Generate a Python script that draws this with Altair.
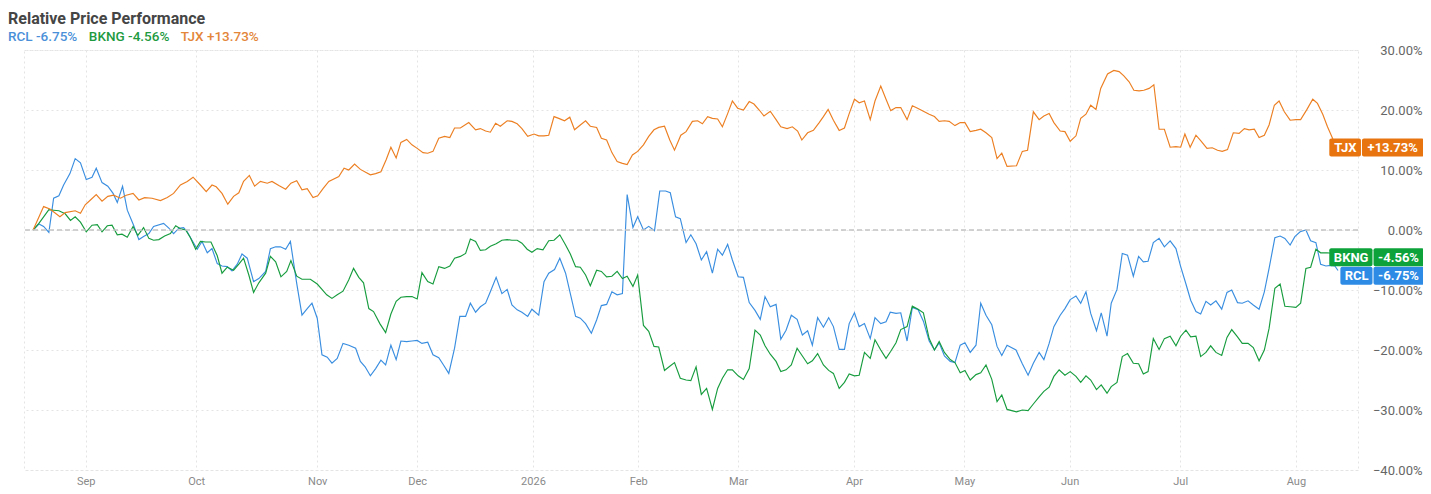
import altair as alt
import pandas as pd

# ---------------- data ----------------
SYMBOLS = ["RCL", "BKNG", "TJX"]
LAST_PCT = [-6.75, -4.56, 13.73]
LINE_COLORS = ["#3a8ee0", "#179c3e", "#ec7f22"]
BOX_COLORS = ["#2d8ae5", "#0ea23b", "#e8740f"]
LEGEND_COLORS = ["#4a90d9", "#1e9a3f", "#e3863a"]

# x axis: trading-day index of the first session of each month
MONTH_DAYS = [10, 31, 54, 73, 95, 115, 134, 156, 177, 197, 218, 240]
MONTH_LABELS = ["Sep", "Oct", "Nov", "Dec", "2026", "Feb", "Mar", "Apr", "May", "Jun", "Jul", "Aug"]
Y_TICKS = [-40, -30, -20, -10, 0, 10, 20, 30]

# [trading-day index, % change]
rcl = [
    [0, 0.0], [1.1, 1.0], [2.0, 0.6], [3.0, -0.4], [3.9, 5.3], [4.9, 5.7], [5.8, 7.5], [7.0, 9.4],
    [8.0, 11.9], [9.0, 11.2], [10.1, 8.4], [11.2, 8.8], [12.0, 10.3], [13.1, 7.9], [14.2, 7.3],
    [15.2, 6.1], [16.0, 4.6], [17.0, 7.3], [17.9, 3.3], [19.1, 0.8], [20.1, -1.6], [21.0, -1.1],
    [22.0, -0.6], [22.9, 0.6], [24.8, 1.1], [25.8, 0.3], [26.7, -0.6], [27.7, 0.3], [28.6, 0.4],
    [29.3, -0.3], [30.2, -1.7], [31.2, -3.2], [32.1, -1.9], [33.1, -3.8], [34.0, -3.1], [35.0, -5.6],
    [35.9, -6.0], [36.9, -6.1], [37.8, -6.8], [38.8, -5.7], [39.7, -4.0], [40.7, -4.7], [41.9, -8.6],
    [42.9, -8.1], [44.2, -6.9], [45.1, -3.1], [46.1, -2.8], [47.0, -2.8], [48.0, -3.2], [48.9, -1.9],
    [50.1, -8.9], [51.1, -14.2], [52.1, -13.1], [53.0, -12.2], [54.0, -14.7], [54.9, -20.8],
    [55.9, -21.2], [56.8, -22.2], [57.8, -21.4], [58.9, -18.9], [60.0, -19.2], [61.3, -19.7],
    [62.2, -21.9], [63.1, -22.8], [64.1, -24.3], [65.1, -23.1], [66.1, -21.7], [67.0, -22.5],
    [68.0, -19.2], [69.0, -21.6], [69.9, -18.5], [71.0, -18.6], [72.0, -18.5], [73.0, -18.4],
    [73.9, -18.9], [75.0, -18.7], [76.0, -20.8], [77.1, -21.3], [78.0, -22.5], [79.0, -23.9],
    [80.1, -19.7], [81.1, -14.4], [82.2, -14.4], [83.1, -12.2], [84.1, -13.7], [85.0, -12.8],
    [86.0, -12.2], [86.9, -10.3], [88.0, -7.9], [89.1, -10.6], [90.1, -9.9], [91.0, -12.5],
    [92.0, -13.3], [92.9, -13.7], [94.0, -14.4], [94.8, -13.2], [96.1, -14.2], [97.1, -8.6],
    [98.0, -7.2], [99.1, -6.6], [100.1, -4.7], [101.2, -7.2], [102.1, -10.6], [103.1, -14.4],
    [104.0, -14.7], [105.0, -15.6], [106.1, -17.2], [107.1, -15.0], [108.0, -12.6], [109.0, -12.4],
    [110.0, -10.3], [111.0, -10.8], [112.0, -10.6], [112.9, 5.9], [114.0, 0.4], [114.9, 2.2],
    [116.0, 0.0], [117.0, 0.6], [118.1, -0.1], [119.1, 6.5], [120.2, 6.5], [121.1, 6.2],
    [122.1, 2.2], [123.0, 1.9], [124.1, -2.1], [125.0, -0.8], [126.0, -2.3], [127.0, -5.0],
    [128.0, -3.6], [129.1, -7.2], [130.1, -3.2], [131.0, -4.2], [132.0, -2.4], [132.9, -5.0],
    [134.0, -7.8], [135.0, -7.9], [136.1, -12.1], [137.2, -13.4], [138.2, -14.9], [139.1, -11.1],
    [140.1, -12.8], [141.2, -12.4], [142.1, -18.2], [143.1, -16.7], [144.1, -14.2], [145.2, -14.9],
    [146.2, -17.5], [147.2, -16.8], [148.1, -19.2], [149.1, -14.6], [150.2, -16.2], [151.2, -14.6],
    [152.1, -16.1], [153.2, -19.9], [154.2, -19.9], [155.1, -15.6], [156.1, -13.8], [157.0, -16.1],
    [158.0, -15.6], [159.1, -18.1], [160.0, -14.6], [161.1, -15.6], [162.1, -15.3], [162.9, -13.7],
    [164.0, -13.9], [164.9, -13.8], [166.1, -18.5], [167.1, -12.9], [168.2, -13.3], [169.2, -15.2],
    [170.3, -18.5], [171.3, -20.0], [172.2, -18.8], [173.2, -21.0], [174.3, -21.9], [175.2, -22.1],
    [176.2, -19.2], [177.1, -18.8], [178.1, -20.4], [179.2, -19.2], [180.1, -12.2], [181.1, -14.2],
    [182.2, -15.8], [183.2, -19.4], [184.1, -20.9], [185.1, -19.2], [186.8, -20.0], [188.0, -22.3],
    [189.1, -24.2], [190.1, -22.2], [191.2, -20.4], [192.1, -21.6], [193.1, -18.9], [194.0, -16.1],
    [195.2, -14.2], [196.1, -13.1], [197.1, -11.6], [198.2, -11.0], [199.1, -12.2], [200.1, -10.3],
    [201.0, -13.9], [202.1, -16.8], [203.0, -13.8], [204.1, -17.7], [204.9, -12.2], [206.0, -9.9],
    [207.0, -3.9], [208.0, -4.2], [209.1, -7.7], [210.1, -4.4], [211.0, -5.3], [211.9, -5.2],
    [212.9, -2.1], [214.0, -1.4], [215.0, -2.8], [216.1, -1.8], [217.2, -3.1], [218.1, -6.1],
    [219.1, -9.0], [220.0, -11.7], [221.0, -13.6], [221.9, -14.0], [222.9, -11.9], [223.8, -12.5],
    [224.8, -11.8], [225.9, -13.2], [226.9, -10.4], [227.8, -10.0], [228.9, -12.1], [229.8, -12.2],
    [230.9, -11.8], [231.9, -12.5], [233.0, -13.2], [234.0, -10.3], [234.9, -6.4], [236.0, -1.3],
    [237.0, -1.0], [237.9, -1.4], [238.9, -2.5], [239.8, -1.1], [240.8, -0.3], [241.9, 0.0],
    [242.8, -1.8], [243.8, -2.1], [244.7, -5.7], [245.7, -6.0], [246.6, -5.9], [247.4, -6.0],
    [248, -6.75],
]

bkng = [
    [0, 0.0], [1.1, 1.1], [2.0, 2.2], [3.0, 3.4], [3.9, 3.3], [4.9, 3.2], [6.1, 2.7], [7.1, 1.6],
    [8.0, 2.2], [9.0, 1.3], [10.1, -0.3], [11.2, 0.8], [12.2, 0.9], [13.1, -0.3], [14.1, 0.7],
    [15.0, 0.8], [16.0, -0.8], [16.9, -0.7], [17.9, -1.2], [19.0, 0.6], [19.9, -0.9], [21.0, 0.4],
    [22.0, -1.4], [22.9, -1.7], [23.9, -1.6], [25.0, -1.0], [26.1, -0.6], [27.1, 0.7], [28.0, 0.2],
    [29.0, 0.0], [29.9, -1.3], [30.9, -3.2], [31.8, -1.9], [32.8, -2.0], [33.8, -2.0], [35.0, -4.3],
    [35.9, -7.2], [36.9, -6.2], [38.1, -6.7], [39.1, -5.7], [40.0, -4.7], [41.0, -7.5], [41.9, -10.4],
    [42.9, -8.8], [44.2, -7.2], [45.1, -4.4], [46.1, -5.3], [47.1, -7.8], [48.2, -6.9], [49.0, -5.1],
    [50.1, -7.7], [51.1, -8.2], [52.7, -8.2], [54.0, -9.0], [54.9, -9.9], [55.8, -10.8],
    [56.8, -11.4], [57.8, -10.8], [58.9, -10.2], [60.0, -8.3], [60.9, -6.4], [61.9, -7.9],
    [62.8, -8.8], [63.8, -13.1], [64.7, -13.6], [65.9, -15.6], [67.0, -17.1], [68.0, -14.0],
    [69.0, -11.9], [69.9, -11.2], [71.0, -11.1], [72.0, -11.1], [73.0, -11.5], [73.9, -7.1],
    [75.0, -8.6], [76.0, -9.0], [77.1, -6.1], [78.2, -6.4], [79.2, -6.0], [80.1, -4.7], [81.2, -4.4],
    [82.2, -3.9], [83.1, -1.5], [84.1, -1.9], [85.0, -3.4], [86.0, -3.3], [86.9, -2.7], [88.0, -2.3],
    [89.1, -1.7], [90.1, -1.6], [91.0, -1.7], [92.0, -1.7], [92.9, -2.2], [93.9, -3.2], [94.8, -3.7],
    [95.8, -3.1], [96.9, -3.3], [98.0, -1.8], [99.0, -1.7], [100.1, -0.8], [101.2, -2.5],
    [102.1, -4.0], [103.1, -6.1], [104.0, -6.2], [105.0, -7.5], [105.9, -9.3], [107.1, -6.7],
    [108.0, -6.9], [109.0, -7.8], [110.0, -7.7], [111.0, -6.9], [112.0, -8.1], [112.9, -7.7],
    [114.0, -9.4], [114.9, -7.5], [116.0, -15.9], [117.0, -16.9], [118.0, -19.4], [118.9, -19.5],
    [120.0, -23.4], [121.0, -22.7], [121.9, -22.1], [123.0, -24.7], [124.1, -25.0], [125.0, -25.1],
    [126.0, -22.8], [127.0, -27.4], [128.0, -26.4], [129.1, -29.9], [130.1, -26.4], [131.0, -24.7],
    [132.0, -23.3], [132.9, -23.3], [134.0, -24.3], [135.0, -24.9], [136.1, -23.1], [137.2, -16.7],
    [138.2, -17.5], [139.1, -19.3], [140.1, -20.7], [141.2, -21.9], [142.1, -23.6], [143.1, -23.3],
    [144.1, -22.5], [145.2, -19.7], [146.2, -21.0], [147.2, -22.3], [148.1, -21.8], [149.1, -20.6],
    [150.2, -22.5], [151.2, -23.4], [152.1, -23.9], [153.2, -26.4], [154.2, -25.4], [155.1, -24.0],
    [156.1, -24.3], [157.0, -24.2], [158.0, -20.4], [159.1, -21.4], [160.0, -18.3], [161.1, -20.0],
    [162.1, -21.4], [163.0, -20.2], [164.0, -18.8], [164.9, -16.6], [166.1, -16.1], [167.1, -12.7],
    [168.2, -13.2], [169.2, -13.8], [170.3, -18.1], [171.3, -20.0], [172.2, -18.6], [173.2, -20.4],
    [174.3, -21.6], [175.2, -22.1], [176.2, -23.8], [177.1, -23.4], [178.1, -25.0], [179.2, -24.1],
    [180.1, -23.8], [181.1, -22.5], [182.2, -24.9], [183.2, -28.6], [184.1, -27.5], [185.1, -29.9],
    [186.9, -30.3], [188.0, -30.0], [189.1, -30.1], [190.1, -29.0], [191.2, -27.8], [192.1, -26.9],
    [193.1, -26.2], [194.0, -24.4], [195.0, -23.3], [196.1, -24.2], [197.1, -23.6], [198.2, -24.4],
    [199.1, -25.4], [200.1, -24.3], [201.0, -25.0], [202.1, -26.6], [203.0, -25.8], [204.1, -27.2],
    [204.9, -26.1], [206.0, -25.4], [207.0, -21.1], [208.0, -20.6], [209.1, -22.2], [210.1, -22.3],
    [211.0, -24.0], [211.9, -23.6], [212.9, -18.1], [214.0, -19.9], [215.0, -18.1], [216.1, -17.7],
    [217.2, -19.3], [218.1, -17.7], [219.1, -16.7], [220.0, -17.8], [221.0, -17.7], [221.9, -21.1],
    [222.9, -20.4], [223.8, -19.3], [224.8, -20.4], [225.9, -20.9], [226.9, -17.9], [227.8, -16.6],
    [228.9, -17.8], [229.8, -18.9], [230.9, -18.9], [231.9, -19.6], [233.0, -21.8], [234.0, -20.0],
    [234.9, -16.4], [236.0, -9.7], [237.0, -9.0], [237.9, -12.7], [238.9, -12.8], [240.0, -12.9],
    [240.9, -12.2], [241.9, -6.4], [242.8, -6.2], [243.8, -3.2], [244.7, -3.8], [245.9, -3.8],
    [247.0, -3.9], [248, -4.56],
]

tjx = [
    [0, 0.0], [2.0, 3.9], [3.2, 3.5], [5.1, 2.2], [6.1, 2.9], [8.0, 3.2], [9.0, 2.8], [9.9, 4.2],
    [10.9, 5.0], [12.0, 5.9], [13.1, 4.8], [14.2, 5.6], [15.3, 5.8], [16.6, 5.3], [17.7, 5.8],
    [19.0, 6.1], [20.1, 5.0], [21.2, 5.4], [22.6, 5.3], [24.2, 4.9], [25.5, 5.4], [26.7, 6.1],
    [28.0, 7.5], [29.3, 8.1], [30.4, 8.8], [31.8, 7.5], [32.9, 6.4], [34.0, 7.5], [34.8, 7.2],
    [35.9, 6.1], [37.0, 4.3], [38.1, 5.6], [39.1, 6.2], [40.0, 8.1], [41.1, 9.1], [42.1, 7.3],
    [43.2, 8.1], [44.5, 7.8], [45.4, 8.1], [46.7, 7.4], [48.0, 6.8], [49.0, 7.8], [50.1, 8.2],
    [51.1, 6.7], [52.1, 6.9], [53.2, 5.4], [54.1, 5.7], [55.1, 6.9], [56.2, 8.1], [58.1, 8.9],
    [59.1, 10.3], [60.0, 10.0], [61.1, 11.0], [62.2, 10.1], [64.1, 9.2], [65.1, 9.4], [66.1, 9.7],
    [67.1, 11.7], [68.0, 13.8], [69.0, 12.0], [69.9, 14.6], [71.0, 15.1], [72.0, 14.2], [73.0, 13.6],
    [74.1, 12.9], [75.0, 12.8], [76.0, 13.1], [77.1, 15.3], [78.2, 15.6], [79.2, 15.4], [80.1, 17.0],
    [81.2, 17.0], [82.8, 17.9], [84.1, 16.7], [85.0, 16.9], [86.0, 16.5], [86.9, 16.3], [87.9, 17.8],
    [88.8, 17.3], [90.1, 18.2], [91.0, 18.1], [92.0, 17.7], [92.9, 16.9], [94.0, 15.6], [95.2, 16.0],
    [96.1, 15.7], [97.1, 15.7], [98.0, 15.8], [99.0, 18.9], [99.9, 18.6], [101.0, 18.2], [102.0, 18.8],
    [102.9, 16.7], [104.0, 17.5], [105.0, 18.2], [105.9, 17.3], [107.1, 17.1], [108.0, 15.3],
    [109.0, 15.0], [110.0, 12.9], [111.0, 11.4], [112.0, 11.1], [112.9, 10.9], [113.9, 12.5],
    [114.9, 13.1], [116.0, 14.2], [117.0, 15.6], [118.0, 16.7], [118.9, 17.1], [120.0, 17.3],
    [121.0, 15.0], [121.9, 13.3], [123.1, 15.8], [124.1, 16.4], [125.3, 18.1], [126.3, 18.2],
    [127.2, 17.7], [128.2, 18.9], [129.1, 18.6], [130.1, 18.5], [131.0, 17.2], [132.0, 19.4],
    [132.9, 21.5], [133.9, 20.3], [135.0, 20.0], [136.1, 21.4], [137.0, 21.0], [138.0, 20.0],
    [138.9, 19.0], [140.1, 19.8], [141.2, 18.4], [142.1, 17.2], [143.3, 16.9], [144.3, 17.2],
    [145.3, 16.5], [146.1, 15.0], [147.2, 16.2], [148.3, 16.6], [149.4, 17.9], [150.2, 18.9],
    [151.1, 20.1], [152.1, 18.3], [153.2, 16.6], [154.2, 17.0], [155.1, 19.4], [156.1, 21.8],
    [157.0, 21.2], [158.0, 21.5], [159.1, 18.4], [160.0, 21.5], [161.1, 24.0], [162.1, 21.8],
    [163.0, 19.9], [164.0, 20.4], [164.9, 20.4], [166.1, 18.4], [167.1, 20.7], [168.1, 20.3],
    [169.2, 19.8], [170.3, 19.3], [171.3, 18.9], [172.2, 18.1], [173.2, 18.2], [174.1, 18.1],
    [175.2, 17.4], [176.2, 17.9], [177.1, 17.9], [178.1, 16.4], [179.2, 16.6], [180.1, 16.8],
    [181.1, 16.2], [182.2, 15.4], [183.2, 11.9], [184.1, 12.8], [185.1, 10.6], [186.9, 10.7],
    [188.0, 13.1], [189.0, 13.3], [190.1, 19.7], [191.2, 18.4], [192.1, 19.0], [193.1, 19.4],
    [194.0, 17.9], [195.2, 16.5], [196.1, 16.4], [197.1, 14.8], [198.2, 15.7], [199.1, 18.6],
    [200.1, 19.3], [201.0, 20.8], [202.0, 20.1], [202.9, 23.6], [204.2, 26.0], [205.4, 26.6],
    [206.4, 26.4], [207.3, 25.7], [208.3, 24.7], [209.2, 23.3], [210.2, 23.2], [211.1, 23.3],
    [212.1, 23.6], [213.0, 24.2], [214.0, 16.8], [215.0, 16.8], [216.1, 13.8], [217.2, 13.9],
    [218.1, 13.8], [218.9, 16.0], [219.9, 13.8], [221.0, 15.8], [221.9, 14.9], [223.1, 13.6],
    [224.1, 13.7], [225.1, 13.3], [226.0, 13.1], [227.0, 13.4], [228.1, 16.2], [229.2, 16.1],
    [230.2, 16.9], [231.1, 16.7], [232.1, 16.8], [233.0, 15.4], [234.0, 15.8], [234.9, 17.5],
    [235.9, 20.8], [236.8, 21.5], [237.8, 19.7], [238.9, 18.3], [240.0, 18.4], [240.9, 18.4],
    [242.1, 20.1], [243.2, 21.8], [244.1, 21.1], [245.1, 19.3], [246.0, 17.2], [247.0, 15.2],
    [248, 13.73],
]

# ---------------- layout / style ----------------
W, H = 1334, 420
X_DOMAIN = [-1.73, 251.8]
Y_DOMAIN = [-40, 30]
FONT = "Roboto"
GRID = "#e4e4e4"

EM = {"0": .562, "1": .562, "2": .562, "3": .562, "4": .562, "5": .562, "6": .562, "7": .562,
      "8": .562, "9": .562, ".": .263, "%": .733, "+": .567, "-": .276, " ": .248,
      "R": .63, "C": .652, "L": .539, "B": .622, "K": .627, "N": .713, "G": .681,
      "T": .61, "J": .551, "X": .627}


def text_w(s, size, bold=False):
    return sum(EM.get(c, .6) for c in s) * size * (1.04 if bold else 1.0)


x_scale = alt.Scale(domain=X_DOMAIN, nice=False, zero=False)
y_scale = alt.Scale(domain=Y_DOMAIN, nice=False, zero=False)
y_axis = alt.Axis(orient="right", values=Y_TICKS, labelExpr="format(datum.value, '.2f') + '%'",
                  grid=True, gridColor=GRID, gridDash=[2, 3], domain=False, ticks=False,
                  labelAlign="right", labelPadding=64, labelColor="#666666",
                  labelFontSize=13, title=None)

rows = []
for sym, series in zip(SYMBOLS, [rcl, bkng, tjx]):
    for d, v in series:
        rows.append({"sym": sym, "day": d, "pct": v})
lines_df = pd.DataFrame(rows)

month_expr = " : ".join(f"datum.value == {d} ? '{m}'" for d, m in zip(MONTH_DAYS, MONTH_LABELS)) + " : ''"

lines = alt.Chart(lines_df).mark_line(strokeWidth=1.15, interpolate="linear").encode(
    x=alt.X("day:Q", scale=x_scale, title=None,
            axis=alt.Axis(values=MONTH_DAYS, labelExpr=month_expr, grid=True, gridColor=GRID,
                          gridDash=[2, 3], domain=False, ticks=False, labelColor="#8a8a8a",
                          labelFontSize=11, labelPadding=5, labelFlush=False, labelOverlap=False)),
    y=alt.Y("pct:Q", scale=y_scale, title=None, axis=y_axis),
    color=alt.Color("sym:N", scale=alt.Scale(domain=SYMBOLS, range=LINE_COLORS), legend=None),
    order=alt.Order("day:Q"),
)

zero = alt.Chart(alt.Data(values=[{"z": 0}])).mark_rule(
    color="#c4c4c4", strokeWidth=1.6, strokeDash=[5, 3]
).encode(y=alt.Y("z:Q", scale=y_scale, title=None, axis=y_axis))

# end-of-line value tags, stacked so they don't overlap
BOX_H = 3.0          # in % units (18 px)
SEP = 3.08
order_idx = sorted(range(len(SYMBOLS)), key=lambda i: -LAST_PCT[i])
centers = {}
prev = None
for i in order_idx:
    c = LAST_PCT[i]
    if prev is not None and prev - c < SEP:
        c = prev - SEP
    centers[i] = c
    prev = c

rects, texts = [], []
right = W + 66
for i, sym in enumerate(SYMBOLS):
    val = f"{LAST_PCT[i]:+.2f}%"
    vw = text_w(val, 13, True) + 11
    sw = text_w(sym, 13, True) + 8
    div = right - vw
    left = div - sw
    c = centers[i]
    rects.append({"x": left, "x2": div - 0.5, "top": c + BOX_H / 2, "bot": c - BOX_H / 2, "color": BOX_COLORS[i]})
    rects.append({"x": div + 0.5, "x2": right, "top": c + BOX_H / 2, "bot": c - BOX_H / 2, "color": BOX_COLORS[i]})
    texts.append({"x": (left + div) / 2, "y": c, "t": sym})
    texts.append({"x": (div + right) / 2, "y": c, "t": val})

tag_rects = alt.Chart(pd.DataFrame(rects)).mark_rect(cornerRadius=2).encode(
    x=alt.X("x:Q", scale=None), x2="x2:Q",
    y=alt.Y("top:Q", scale=y_scale, title=None, axis=y_axis), y2="bot:Q",
    color=alt.Color("color:N", scale=None),
)
tag_texts = alt.Chart(pd.DataFrame(texts)).mark_text(
    color="white", fontWeight="bold", fontSize=13, font=FONT, align="center", baseline="middle", dy=0.5
).encode(
    x=alt.X("x:Q", scale=None),
    y=alt.Y("y:Q", scale=y_scale, title=None, axis=y_axis),
    text="t:N",
)

# title and coloured legend line above the plot
LEG_SIZE = 13.5
leg_rows = []
lx = -16
for i, sym in enumerate(SYMBOLS):
    s = f"{sym} {LAST_PCT[i]:+.2f}%"
    leg_rows.append({"x": lx, "t": s, "color": LEGEND_COLORS[i]})
    lx += text_w(s, LEG_SIZE) + 13

legend = alt.Chart(pd.DataFrame(leg_rows)).mark_text(
    align="left", baseline="alphabetic", fontSize=LEG_SIZE, font=FONT, fontWeight=500
).encode(
    x=alt.X("x:Q", scale=None),
    y=alt.value(-9),
    text="t:N",
    color=alt.Color("color:N", scale=None),
)

title = alt.Chart(alt.Data(values=[{"t": "Relative Price Performance"}])).mark_text(
    align="left", baseline="alphabetic", fontSize=16, fontWeight="bold", font=FONT, color="#454545"
).encode(x=alt.value(-16), y=alt.value(-26.5), text="t:N")

chart = alt.layer(lines, zero, tag_rects, tag_texts, legend, title).properties(
    width=W, height=H,
    autosize=alt.AutoSizeParams(type="none"),
    padding={"left": 16, "top": 42, "right": 65, "bottom": 22},
    background="white",
).configure(font=FONT).configure_view(stroke=GRID, strokeDash=[2, 3], strokeWidth=1)

chart.save("out.html", embed_options={"renderer": "svg", "actions": False})
